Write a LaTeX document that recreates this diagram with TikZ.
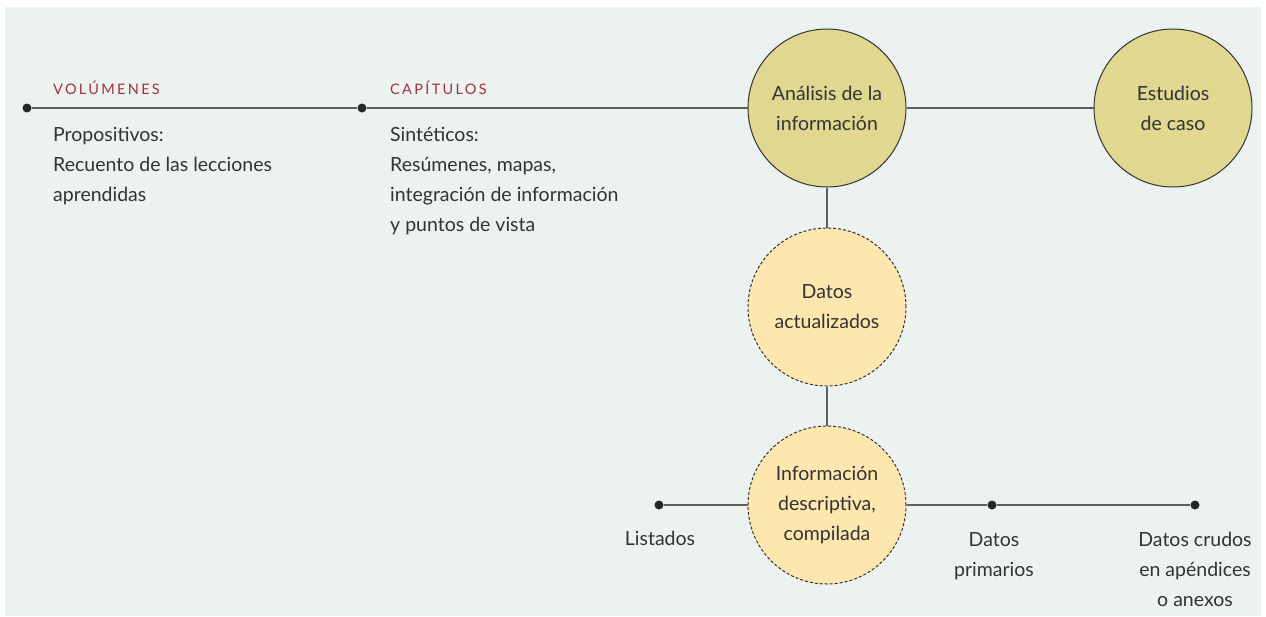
\documentclass[tikz,border=0pt]{standalone}
\usepackage{fontspec}
\setmainfont{Lato}
\newfontfamily\titolofont[LetterSpace=16]{Lato}
\usetikzlibrary{positioning}
\definecolor{fondo}{HTML}{EBF2F0}
\definecolor{oliva}{HTML}{E0D791}
\definecolor{crema}{HTML}{FDE7AE}
\definecolor{rojo}{HTML}{A2323A}
\definecolor{linea}{HTML}{5E5E5E}
\definecolor{testo}{HTML}{333333}
\tikzset{
  dot/.style={circle,fill=black!85,inner sep=0pt,minimum size=9pt},
  tratto/.style={draw=linea,line width=1.4pt},
  testo/.style={text=testo,inner sep=0pt,font=\fontsize{19.5}{30}\selectfont},
  titolo/.style={text=rojo,inner sep=0pt,anchor=base west,font=\titolofont\fontsize{14.5}{18}\selectfont},
  cerchio/.style={circle,draw=black!80,line width=1pt,minimum size=158pt,inner sep=0pt,
    align=center,text=testo,font=\fontsize{19.5}{30}\selectfont},
  pieno/.style={cerchio,fill=oliva},
  tratteggio/.style={cerchio,fill=crema,dash pattern=on 3pt off 2pt}
}
\begin{document}
\begin{tikzpicture}[x=1pt,y=-1pt]
\useasboundingbox (0,0) rectangle (1266,616);
\fill[fondo] (5,7) rectangle (1261,616);

%i cerchi
\node[pieno] (analisi) at (827,108) {Análisis de la\\información};
\node[pieno] (casi) at (1173,108) {Estudios\\de caso};
\node[tratteggio] (dati) at (827,307) {Datos\\actualizados};
\node[tratteggio] (info) at (827,505) {Información\\descriptiva,\\compilada};

%i punti
\node[dot] (v1) at (27,108) {};
\node[dot] (v2) at (362,108) {};
\node[dot] (b1) at (659,505) {};
\node[dot] (b2) at (992,505) {};
\node[dot] (b3) at (1195,505) {};

%le linee
\draw[tratto] (v1) -- (v2) -- (analisi) -- (casi);
\draw[tratto] (analisi) -- (dati) -- (info);
\draw[tratto] (b1) -- (info) -- (b2) -- (b3);

%i testi (base = ultima riga)
\node[titolo] (vol) at (53,94) {VOLÚMENES};
\node[titolo] (cap) at (390,94) {CAPÍTULOS};
\node[testo,align=left,anchor=base west] (prop) at (53,201)
  {Propositivos:\\Recuento de las lecciones\\aprendidas};
\node[testo,align=left,anchor=base west] (sint) at (390,231)
  {Sintéticos:\\Resúmenes, mapas,\\integración de información\\y puntos de vista};
\node[testo,align=center,anchor=base] (list) at (660,545) {Listados};
\node[testo,align=center,anchor=base] (prim) at (994,576) {Datos\\primarios};
\node[testo,align=center,anchor=base] (crud) at (1195,606) {Datos crudos\\en apéndices\\o anexos};
\end{tikzpicture}
\end{document}
